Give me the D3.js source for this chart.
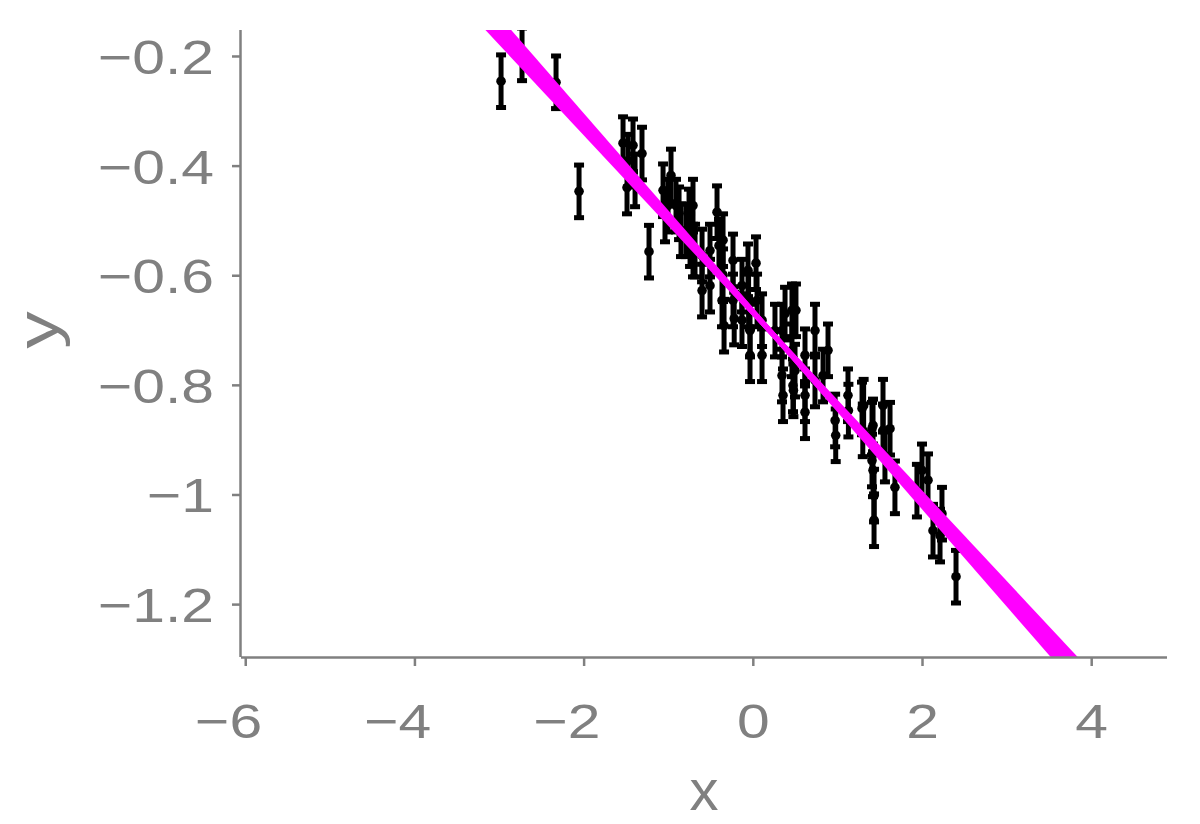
<!DOCTYPE html>
<html>
<head>
<meta charset="utf-8">
<script src="https://cdn.jsdelivr.net/npm/d3@7"></script>
<style>
  html, body { margin: 0; padding: 0; background: #ffffff; }
  svg text { font-family: "Liberation Sans", Arial, sans-serif; fill: #808080; }
</style>
</head>
<body>
<svg id="chart" width="1200" height="824"></svg>
<script>
// ---- data ----
const xValues = [
  -2.976, -2.728, -2.326, -2.054,
  -1.534, -1.475, -1.416, -1.487, -1.392, -1.310, -1.227,
  -1.061, -1.038, -1.002, -0.967, -0.908, -0.872, -0.849, -0.790, -0.754, -0.742, -0.683,
  -0.707, -0.707, -0.600, -0.600, -0.506, -0.506, -0.423, -0.400, -0.352, -0.352, -0.364, -0.340,
  -0.234, -0.234, -0.220, -0.128, -0.128, -0.057, -0.050, -0.033, -0.033, 0.038, 0.050,
  0.109, 0.109, 0.262, 0.381, 0.499, 0.475,
  0.345, 0.345, 0.357, 0.463, 0.463, 0.480, 0.510, 0.617, 0.617, 0.617, 0.735, 0.735,
  0.889, 0.830, 0.973, 0.980, 1.125, 1.130, 1.291, 1.300, 1.409, 1.409, 1.539, 1.539, 1.562,
  1.310, 1.421, 1.421, 1.433, 1.433, 1.622, 1.680, 1.940, 2.000, 2.071, 2.130, 2.236, 2.213, 2.402
];
const yValues = [
  -0.246, -0.197, -0.248, -0.447,
  -0.359, -0.391, -0.363, -0.440, -0.427, -0.378, -0.557,
  -0.445, -0.491, -0.473, -0.418, -0.473, -0.487, -0.518, -0.518, -0.491, -0.536, -0.555,
  -0.473, -0.555, -0.564, -0.628, -0.555, -0.619, -0.485, -0.546, -0.536, -0.600, -0.646, -0.692,
  -0.573, -0.646, -0.679, -0.619, -0.682, -0.591, -0.646, -0.701, -0.746, -0.578, -0.646,
  -0.682, -0.746, -0.701, -0.670, -0.774, -0.801,
  -0.701, -0.783, -0.819, -0.664, -0.737, -0.810, -0.664, -0.746, -0.819, -0.850, -0.701, -0.792,
  -0.737, -0.783, -0.865, -0.892, -0.819, -0.847, -0.843, -0.883, -0.880, -0.938, -0.838, -0.883, -0.929,
  -0.838, -0.874, -0.956, -1.002, -1.047, -0.880, -0.987, -0.993, -0.956, -0.974, -1.066, -1.035, -1.075, -1.150
];
const yErrorHalf = 0.048;

// fitted lines (posterior draws): slope and intercept
const lineSlopes     = [-0.1653, -0.1675, -0.1700, -0.1722, -0.1748, -0.1772];
const lineIntercepts = [-0.6684, -0.6678, -0.6672, -0.6667, -0.6661, -0.6656];

const xTicks = [-6, -4, -2, 0, 2, 4];
const yTicks = [-0.2, -0.4, -0.6, -0.8, -1, -1.2];
const xLabel = "x";
const yLabel = "y";

// ---- layout ----
const mLeft = 241, mRight = 1167, mTop = 30, mBottom = 657;
const xDomain = [-6.05, 4.896];
const yDomain = [-1.2965, -0.1526];

const svg = d3.select("#chart");
const x = d3.scaleLinear().domain(xDomain).range([mLeft, mRight]);
const y = d3.scaleLinear().domain(yDomain).range([mBottom, mTop]);

const axisColor = "#808080";
const stretch = 1.2;
const tickFont = 49;
const MINUS = "\u2212";

svg.append("defs").append("clipPath").attr("id", "plotClip")
  .append("rect").attr("x", mLeft).attr("y", mTop).attr("width", mRight - mLeft).attr("height", mBottom - mTop);

// points with error bars
const pts = xValues.map((v, i) => ({ x: v, y: yValues[i] }));
const gPts = svg.append("g").attr("clip-path", "url(#plotClip)");
const capHalf = 5;
const barW = 5;
pts.forEach(p => {
  const px = x(p.x), y1 = y(p.y + yErrorHalf), y2 = y(p.y - yErrorHalf);
  gPts.append("line").attr("x1", px).attr("x2", px).attr("y1", y1).attr("y2", y2)
    .attr("stroke", "#000").attr("stroke-width", barW);
  gPts.append("line").attr("x1", px - capHalf).attr("x2", px + capHalf).attr("y1", y1).attr("y2", y1)
    .attr("stroke", "#000").attr("stroke-width", barW);
  gPts.append("line").attr("x1", px - capHalf).attr("x2", px + capHalf).attr("y1", y2).attr("y2", y2)
    .attr("stroke", "#000").attr("stroke-width", barW);
  gPts.append("circle").attr("cx", px).attr("cy", y(p.y)).attr("r", 4.8).attr("fill", "#000");
});

// fit lines
const gLines = svg.append("g").attr("clip-path", "url(#plotClip)");
lineSlopes.forEach((m, i) => {
  const b = lineIntercepts[i];
  gLines.append("line")
    .attr("x1", x(xDomain[0])).attr("y1", y(b + m * xDomain[0]))
    .attr("x2", x(xDomain[1])).attr("y2", y(b + m * xDomain[1]))
    .attr("stroke", "#ff00ff").attr("stroke-width", 5);
});

// axes (lines + ticks through d3 axis; labels placed below)
const xAxis = d3.axisBottom(x).tickValues(xTicks).tickSize(9).tickFormat("");
const gx = svg.append("g").attr("transform", `translate(0,${mBottom})`).call(xAxis);
gx.select(".domain").attr("d", `M${mLeft},0.5H${mRight}`).attr("stroke", axisColor).attr("stroke-width", 2.5);
gx.selectAll(".tick line").attr("stroke", axisColor).attr("stroke-width", 2.5);
gx.selectAll(".tick text").remove();

const yAxis = d3.axisLeft(y).tickValues(yTicks).tickSize(9).tickFormat("");
const gy = svg.append("g").attr("transform", `translate(${mLeft},0)`).call(yAxis);
gy.select(".domain").attr("d", `M-0.5,${mTop}V${mBottom}`).attr("stroke", axisColor).attr("stroke-width", 2.5);
gy.selectAll(".tick line").attr("stroke", axisColor).attr("stroke-width", 2.5);
gy.selectAll(".tick text").remove();

// x tick labels: digits centred on tick, minus hanging to the left
gx.selectAll(".tick").each(function (d) {
  const g = d3.select(this).append("g").attr("transform", `translate(0,81) scale(${stretch},1)`);
  const digits = String(Math.abs(d));
  const t = g.append("text").attr("text-anchor", "middle").attr("font-size", tickFont).attr("fill", axisColor).text(digits);
  if (d < 0) {
    const w = t.node().getComputedTextLength();
    g.append("text").attr("text-anchor", "end").attr("x", -w / 2)
      .attr("font-size", tickFont).attr("fill", axisColor).text(MINUS);
  }
});

// y tick labels: right aligned
gy.selectAll(".tick").each(function (d) {
  const s = String(d).replace("-", MINUS);
  d3.select(this).append("g").attr("transform", `translate(-27,17.5) scale(${stretch},1)`)
    .append("text").attr("text-anchor", "end").attr("font-size", tickFont).attr("fill", axisColor).text(s);
});

// axis titles
svg.append("text").attr("x", (mLeft + mRight) / 2).attr("y", 810)
  .attr("text-anchor", "middle").attr("font-size", 58).text(xLabel);
svg.append("g").attr("transform", `translate(58,330) rotate(-90) scale(1.25,1)`)
  .append("text").attr("text-anchor", "middle").attr("font-size", 60).text(yLabel);
</script>
</body>
</html>
